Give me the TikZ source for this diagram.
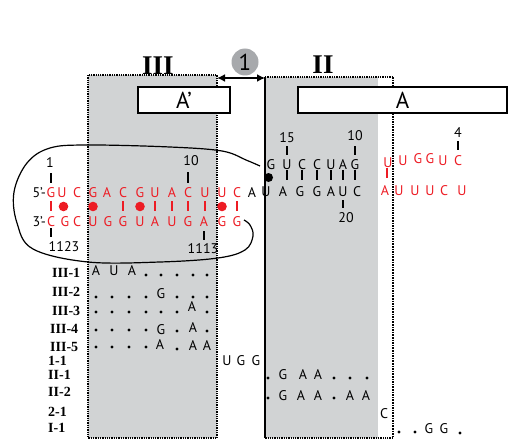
\documentclass[tikz,border=0pt]{standalone}
\usepackage{fontspec}
\setmainfont{Liberation Serif}
\setsansfont{PT Sans}
\usetikzlibrary{arrows.meta,calc}
\definecolor{seqred}{RGB}{237,28,36}
\definecolor{boxgray}{RGB}{209,211,212}
\definecolor{markgray}{RGB}{167,169,172}

\begin{document}
\begin{tikzpicture}[x=1pt, y=-1pt,
  nt/.style={font=\sffamily\fontsize{14}{14}\selectfont, inner sep=0pt, text height=10pt, text depth=0pt},
  rnt/.style={nt, text=seqred},
  num/.style={font=\sffamily\fontsize{14}{14}\selectfont, inner sep=0pt},
  rowlab/.style={font=\bfseries\fontsize{14}{14}\selectfont, inner sep=0pt, anchor=west},
  hdr/.style={font=\bfseries\fontsize{27}{27}\selectfont, inner sep=0pt},
  domainbox/.style={draw, fill=white, line width=1.8pt, inner sep=0pt, minimum height=26pt,
    font=\sffamily\fontsize{23}{23}\selectfont},
  tick/.style={line width=2.2pt},
  pairbar/.style={draw=seqred, line width=2.2pt},
  frameline/.style={densely dotted, line width=1.3pt}
]
  \useasboundingbox (0,0) rectangle (511,441);

  \fill[boxgray] (88,75) rectangle (217,438);
  \fill[boxgray] (265,77) rectangle (378,438);
  \draw[frameline] (88,75) rectangle (217,438);
  \draw[line width=1.6pt] (265,77) -- (265,438);
  \draw[frameline] (265,77) -- (393,77);
  \draw[frameline, line width=1.6pt] (393,77) -- (393,438);
  \draw[frameline] (393,438) -- (265,438);

  \node[hdr] (hIII) at (158,66) {III};
  \node[hdr] (hII) at (323,65) {II};

  \coordinate (IIIne) at (217,78);
  \coordinate (IInw) at (265,78);
  \draw[{Latex[length=8pt,width=8pt]}-{Latex[length=8pt,width=8pt]}, line width=1.6pt] (IIIne) -- (IInw);
  \node[circle, fill=markgray, minimum size=27pt, inner sep=0pt,
    font=\sffamily\fontsize{23}{23}\selectfont] (step1) at (245,62) {1};

  \node[domainbox, minimum width=92pt] (Aprime) at (184,100) {A’};
  \node[domainbox, minimum width=209pt] (Adom) at (402.5,100) {A};

  \draw[line width=1.2pt] plot[smooth, tension=0.6] coordinates {
    (260,166) (246,160) (222,151) (170,147) (88,145) (50,148) (27,163) (14,192)
    (17,223) (33,249) (88,262) (160,262) (218,258) (245,250) (253,236) (250,225) (244,220)};

  \node[nt, anchor=east] (five) at (46,192) {5’-};
  \node[nt, anchor=east] (three) at (46,221) {3’-};
  \foreach \i/\x/\base in {1/51/G,2/62/U,3/77/C,4/93/G,5/107/A,6/123/C,7/140/G,
      8/155/U,9/172/A,10/188/C,11/205/U,12/222/U,13/237/C}
    \node[rnt] (s\i) at (\x,192) {\base};
  \foreach \i/\x/\base in {1/51/C,2/65/G,3/77/C,4/93/U,5/108/G,6/123/G,7/140/U,
      8/155/A,9/172/U,10/188/G,11/204/A,12/222/G,13/237/G}
    \node[rnt] (b\i) at (\x,221) {\base};
  \foreach \i in {1,6,8,9,10,11,13}
    \draw[pairbar] (s\i.south) ++(0,4) -- ++(0,10);
  \foreach \i in {2,4,7,12}
    \fill[seqred] ($(s\i.south)!0.5!(b\i.north)$) circle (4.8pt);

  \node[nt] (loopA) at (252,192) {A};
  \foreach \i/\x/\base in {1/271/G,2/287/U,3/302/C,4/317/C,5/331/U,6/343/A,7/355/G}
    \node[nt] (h\i) at (\x,164) {\base};
  \foreach \i/\x/\base in {1/266/U,2/283/A,3/300/G,4/317/G,5/331/A,6/343/U,7/357/C}
    \node[nt] (g\i) at (\x,191) {\base};
  \foreach \i in {2,...,7}
    \draw[tick] (h\i.south) ++(0,1) -- ++(0,10);
  \fill ($(h1.south)!0.5!(g1.north)$) circle (4.5pt);

  \foreach \i/\x/\y/\base in {1/388/162/U,2/403/160/U,3/418/158/G,4/430/158/G,5/443/160/U,6/458/160/C}
    \node[rnt] (t\i) at (\x,\y) {\base};
  \foreach \i/\x/\base in {1/385/A,2/399/U,3/415/U,4/430/U,5/444/C,6/462/U}
    \node[rnt] (u\i) at (\x,190) {\base};
  \draw[pairbar] (t1.south) ++(-1,1) -- ++(0,10);

  \draw[tick] (s1.north) ++(0,-4) -- ++(0,-10);
  \node[num] (n1) at (50,163) {1};
  \draw[tick] (s10.north) ++(0,-4) -- ++(0,-11);
  \node[num] (n10) at (191,161) {10};
  \draw[tick] (b1.south) ++(0,2) -- ++(0,9);
  \node[num] (n1123) at (64,247) {1123};
  \draw[tick] (b11.south) ++(0,5) -- ++(0,9);
  \node[num] (n1113) at (203,249) {1113};
  \draw[tick] (h2.north) ++(0,-4) -- ++(0,-9);
  \node[num] (n15) at (287,138) {15};
  \draw[tick] (h7.north) ++(0,-4) -- ++(0,-9);
  \node[num] (n10b) at (355,136) {10};
  \draw[tick] (g6.south) ++(0,4) -- ++(0,8);
  \node[num] (n20) at (346,218) {20};
  \draw[tick] (t6.north) ++(0,-5) -- ++(0,-9);
  \node[num] (n4) at (458,133) {4};

  \node[rowlab] (rIIIa) at (52,273) {III-1};
  \node[rowlab] (rIIIb) at (52,292) {III-2};
  \node[rowlab] (rIIIc) at (52,311) {III-3};
  \node[rowlab] (rIIId) at (50,329) {III-4};
  \node[rowlab] (rIIIe) at (50,347) {III-5};
  \node[rowlab] (rOne) at (48,361) {1-1};
  \node[rowlab] (rIIa) at (48,375) {II-1};
  \node[rowlab] (rIIb) at (48,392) {II-2};
  \node[rowlab] (rTwo) at (48,412) {2-1};
  \node[rowlab] (rIa) at (48,428) {I-1};

  \foreach \x/\y/\base [count=\k] in {96/270/A,114/270/U,132/270/A,
      161/293/G,
      192/306/A,
      161/329/G,193/327/A,
      160/344/A,193/345/A,207/345/A,
      227/360/U,241/360/G,256/360/G,
      283/374/G,303/374/A,318/374/A,
      283/395/G,301/395/A,318/395/A,350/395/A,366/395/A,
      384/413/C,
      429/428/G,444/428/G}
    \node[nt] (al\k) at (\x,\y) {\base};
  \foreach \x/\y in {146/275,161/275,177/275,193/275,207/275,
      96/297,112/297,129/297,146/297,177/297,193/297,207/297,
      96/312,112/312,129/312,146/312,161/312,177/312,207/312,
      96/330,112/330,129/330,146/330,177/331,207/331,
      96/347,112/347,129/347,146/347,177/349,
      268/378,334/378,350/378,367/378,
      268/398,334/398,
      399/432,415/432,460/433}
    \fill (\x,\y) circle (1.7pt);
\end{tikzpicture}
\end{document}
